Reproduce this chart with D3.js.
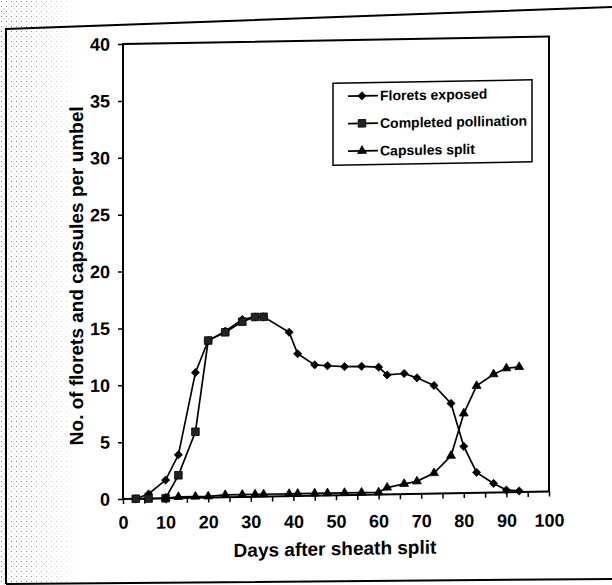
<!DOCTYPE html>
<html>
<head>
<meta charset="utf-8">
<script src="https://cdn.jsdelivr.net/npm/d3@7"></script>
<style>
  body { margin: 0; background: #fff; }
  svg { display: block; }
  .axis text { font-family: "Liberation Sans", Arial, sans-serif; font-weight: bold; font-size: 18px; fill: #000; }
  .axis line { stroke: #000; stroke-width: 1.5; }
  .title { font-family: "Liberation Sans", Arial, sans-serif; font-weight: bold; font-size: 19px; fill: #000; }
  .legend text { font-family: "Liberation Sans", Arial, sans-serif; font-weight: bold; font-size: 14px; fill: #000; }
</style>
</head>
<body>
<div id="chart"></div>
<script>
// values
var days = [3, 6, 10, 13, 17, 20, 24, 28, 31, 33, 39, 41, 45, 48, 52, 56, 60, 62, 66, 69, 73, 77, 80, 83, 87, 90, 93]
var florets = [0, 0.4, 1.6, 3.8, 11.0, 13.8, 14.6, 15.6, 15.8, 15.8, 14.4, 12.5, 11.5, 11.4, 11.3, 11.3, 11.2, 10.5, 10.6, 10.2, 9.5, 7.9, 4.1, 1.8, 0.8, 0.2, 0.1]
var pollinationDays = [3, 6, 10, 13, 17, 20, 24, 28, 31, 33]
var pollination = [0, 0, 0, 2.0, 5.8, 13.8, 14.5, 15.4, 15.8, 15.8]
var capsuleDays = [10, 13, 17, 20, 24, 28, 31, 33, 39, 41, 45, 48, 52, 56, 60, 62, 66, 69, 73, 77, 80, 83, 87, 90, 93]
var capsules = [0, 0.1, 0.1, 0.1, 0.2, 0.2, 0.2, 0.2, 0.2, 0.2, 0.2, 0.2, 0.2, 0.2, 0.2, 0.6, 0.9, 1.1, 1.8, 3.3, 7.0, 9.4, 10.4, 10.9, 11.0]
var seriesNames = ["Florets exposed", "Completed pollination", "Capsules split"]
var xTicks = d3.range(0, 101, 5)
var yTicks = d3.range(0, 41, 5)

var W = 612, H = 585
var margin = {top: 44, left: 123}
var width = 426
var height = 455
var shear = Math.tan(Math.PI / 180)

var svg = d3.select("#chart").append("svg")
  .attr("width", W)
  .attr("height", H)

// scanned paper stipple on the left
var defs = svg.append("defs")
var pat = defs.append("pattern")
  .attr("id", "dots")
  .attr("width", 5).attr("height", 5)
  .attr("patternUnits", "userSpaceOnUse")
pat.append("rect").attr("x", 1).attr("y", 1).attr("width", 1).attr("height", 1).attr("fill", "#777")
pat.append("rect").attr("x", 3.5).attr("y", 3.5).attr("width", 1).attr("height", 1).attr("fill", "#aaa")
var grad = defs.append("linearGradient").attr("id", "fade")
grad.append("stop").attr("offset", "0").attr("stop-color", "#fff").attr("stop-opacity", 1)
grad.append("stop").attr("offset", "0.4").attr("stop-color", "#fff").attr("stop-opacity", 0.75)
grad.append("stop").attr("offset", "1").attr("stop-color", "#fff").attr("stop-opacity", 0)
defs.append("mask").attr("id", "fadeMask")
  .attr("maskContentUnits", "userSpaceOnUse")
  .append("rect").attr("x", 0).attr("y", 0).attr("width", 80).attr("height", H).attr("fill", "url(#fade)")
svg.append("rect")
  .attr("x", 0).attr("y", 0).attr("width", 80).attr("height", H)
  .attr("fill", "url(#dots)")
  .attr("mask", "url(#fadeMask)")

// outer frame of the page
svg.append("path")
  .attr("d", "M6,584 L6,29 L612,7 M6,584 L612,579")
  .attr("fill", "none")
  .attr("stroke", "#000")
  .attr("stroke-width", 2)

// the scan is slightly sheared, right side higher
var page = svg.append("g")
  .attr("transform", "translate(" + margin.left + ",0) skewY(-1) translate(" + (-margin.left) + ",0)")

var main = page.append("g")
  .attr("transform", "translate(" + margin.left + "," + margin.top + ")")

var x = d3.scaleLinear().domain([0, 100]).range([0, width])
var y = d3.scaleLinear().domain([0, 40]).range([height, 0])

var xAxis = d3.axisBottom(x)
  .tickValues(xTicks)
  .tickSize(5)
  .tickPadding(12)
  .tickFormat(function(d) { return d % 10 === 0 ? d : "" })

main.append("g")
  .attr("class", "axis")
  .attr("transform", "translate(0," + height + ")")
  .call(xAxis)
  .call(function(g) { g.select(".domain").remove() })
  .selectAll("text")
  .attr("transform", function(d) { return "translate(0," + (shear * x(d) * 0.7) + ")" })

var yAxis = d3.axisLeft(y)
  .tickValues(yTicks)
  .tickSize(5)
  .tickPadding(8)

main.append("g")
  .attr("class", "axis")
  .call(yAxis)
  .call(function(g) { g.select(".domain").remove() })

main.append("rect")
  .attr("width", width)
  .attr("height", height)
  .attr("fill", "none")
  .attr("stroke", "#000")
  .attr("stroke-width", 2)

var line = d3.line()
  .x(function(d) { return x(d[0]) })
  .y(function(d) { return y(d[1]) })

var symbols = [
  d3.symbol().type(d3.symbolDiamond2).size(42),
  d3.symbol().type(d3.symbolSquare).size(58),
  d3.symbol().type(d3.symbolTriangle).size(34)
]
var fills = ["#000", "#222", "#000"]

var series = [
  d3.zip(days, florets),
  d3.zip(pollinationDays, pollination),
  d3.zip(capsuleDays, capsules)
]

series.forEach(function(data, i) {
  main.append("path")
    .datum(data)
    .attr("d", line)
    .attr("fill", "none")
    .attr("stroke", "#000")
    .attr("stroke-width", 1.7)

  main.append("g").selectAll("path")
    .data(data)
    .enter().append("path")
    .attr("d", symbols[i])
    .attr("transform", function(d) { return "translate(" + x(d[0]) + "," + y(d[1]) + ")" })
    .attr("fill", fills[i])
    .attr("stroke", "#000")
    .attr("stroke-width", 0.8)
})

// legend
var legend = page.append("g").attr("class", "legend")
legend.append("rect")
  .attr("x", 333).attr("y", 87)
  .attr("width", 199).attr("height", 82)
  .attr("fill", "#fff")
  .attr("stroke", "#000")
  .attr("stroke-width", 1.5)

var rows = legend.selectAll("g.row")
  .data(seriesNames)
  .enter().append("g")
  .attr("class", "row")
  .attr("transform", function(d, i) { return "translate(348," + (100 + i * 27.5) + ")" })

rows.append("line")
  .attr("x1", 0).attr("x2", 30)
  .attr("stroke", "#000")
  .attr("stroke-width", 1.7)
rows.append("path")
  .attr("d", function(d, i) { return symbols[i]() })
  .attr("transform", "translate(14,0)")
  .attr("fill", function(d, i) { return fills[i] })
  .attr("stroke", "#000")
  .attr("stroke-width", 0.8)
rows.append("text")
  .attr("x", 32)
  .attr("dy", "0.36em")
  .text(function(d) { return d })

// axis titles
page.append("text")
  .attr("class", "title")
  .attr("x", margin.left + width / 2 - 1)
  .attr("y", 559)
  .attr("text-anchor", "middle")
  .text("Days after sheath split")

page.append("text")
  .attr("class", "title")
  .attr("transform", "translate(83,275) rotate(-90)")
  .attr("text-anchor", "middle")
  .text("No. of florets and capsules per umbel")
</script>
</body>
</html>
